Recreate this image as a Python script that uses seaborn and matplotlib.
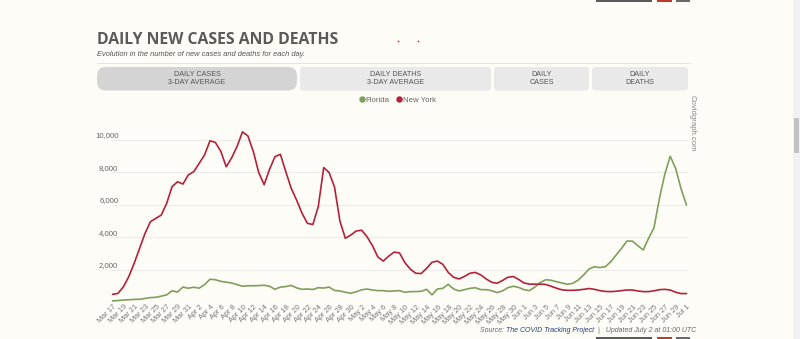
import numpy as np
import pandas as pd
import seaborn as sns
import matplotlib.pyplot as plt
import matplotlib.transforms as mtransforms
from matplotlib.patches import FancyBboxPatch
from matplotlib.lines import Line2D

# ---------------- data ----------------
dates = pd.date_range("2020-03-17", "2020-07-01", freq="D")
states = ["Florida", "New York"]
florida = [100, 120, 150, 170, 190, 200, 250, 300, 320, 390,
           470, 720, 640, 950, 880, 940, 880, 1100, 1430, 1400,
           1300, 1250, 1200, 1100, 1000, 1030, 1030, 1040, 1060, 1000,
           810, 950, 980, 1050, 900, 810, 830, 800, 910, 890,
           950, 740, 710, 630, 570, 660, 780, 830, 770, 730,
           730, 690, 710, 730, 630, 670, 670, 690, 810, 470,
           830, 870, 1120, 830, 710, 790, 870, 910, 790, 790,
           730, 610, 710, 910, 1000, 930, 790, 730, 950, 1230,
           1400, 1370, 1280, 1200, 1120, 1180, 1380, 1690, 2060, 2200,
           2150, 2200, 2500, 2920, 3330, 3780, 3780, 3500, 3230, 3950,
           4600, 6400, 7900, 9000, 8250, 7000, 6000]
new_york = [500, 560, 960, 1590, 2410, 3330, 4250, 4970, 5180, 5380,
            6100, 7130, 7430, 7290, 7850, 8050, 8560, 9080, 9950, 9850,
            9300, 8350, 8900, 9600, 10500, 10250, 9300, 8000, 7250, 8200,
            8970, 9120, 8050, 7030, 6300, 5490, 4870, 4800, 5900, 8300,
            8000, 7100, 5000, 3950, 4150, 4400, 4450, 4050, 3500, 2800,
            2550, 2850, 3100, 3050, 2450, 2050, 1800, 1780, 2100, 2480,
            2550, 2350, 1850, 1550, 1450, 1600, 1800, 1850, 1700, 1450,
            1250, 1180, 1350, 1550, 1600, 1420, 1200, 1130, 1130, 1130,
            1110, 1000, 880, 780, 750, 750, 770, 810, 860, 810,
            730, 680, 670, 690, 730, 770, 770, 710, 670, 670,
            720, 790, 810, 770, 630, 550, 550]
y_ticks = [2000, 4000, 6000, 8000, 10000]
y_labels = ["2,000", "4,000", "6,000", "8,000", "10,000"]
x_tick_pos = list(range(0, len(dates), 2))
x_tick_labels = [f"{d.strftime('%b')} {d.day}" for d in dates[::2]]
palette = {"Florida": "#7f9f5d", "New York": "#b2223a"}

# ---------------- style ----------------
sns.set_theme(style="white")
plt.rcParams["font.family"] = ["Liberation Sans", "DejaVu Sans"]

BG = "#fdfcf7"
W, H = 800, 339
fig = plt.figure(figsize=(W / 100, H / 100), dpi=100, facecolor=BG)
ident = mtransforms.IdentityTransform()


def fx(px):
    return px / W


def fy(py):
    return 1 - py / H


def rect(x0, y0, x1, y1, color, rounding=0.0, z=0):
    p = FancyBboxPatch((x0, H - y1), x1 - x0, y1 - y0,
                       boxstyle=f"round,pad=0,rounding_size={rounding}",
                       transform=ident, facecolor=color, edgecolor="none",
                       zorder=z)
    fig.add_artist(p)


# ---------------- header ----------------
fig.text(fx(97), fy(40), "DAILY NEW CASES AND DEATHS", fontsize=11.3,
         fontweight="bold", family=["Open Sans", "DejaVu Sans"],
         color="#5a5a5a", va="center", ha="left")
fig.text(fx(97), fy(54.5), "Evolution in the number of new cases and deaths for each day.",
         fontsize=5.4, style="italic", color="#555555", va="center", ha="left")
for px in (398, 418):
    fig.add_artist(Line2D([fx(px)], [fy(41)], marker="o", ms=1.3, color="#d43a3a",
                          mec="none", transform=fig.transFigure))
fig.add_artist(Line2D([fx(97), fx(690)], [fy(62.5), fy(62.5)], color="#e4e4e4",
                      lw=0.7, transform=fig.transFigure))

# tabs
tabs = [(97, 297, "#d4d4d4", 9, "DAILY CASES", "3-DAY AVERAGE"),
        (300, 491, "#e9e9e9", 3, "DAILY DEATHS", "3-DAY AVERAGE"),
        (494, 589, "#e9e9e9", 3, "DAILY", "CASES"),
        (592, 688, "#e9e9e9", 3, "DAILY", "DEATHS")]
for x0, x1, col, rnd, l1, l2 in tabs:
    rect(x0, 67, x1, 90.5, col, rnd)
    cx = (x0 + x1) / 2
    fig.text(fx(cx), fy(74.5), l1, fontsize=5.2, color="#555555", ha="center", va="center")
    fig.text(fx(cx), fy(82.5), l2, fontsize=5.2, color="#555555", ha="center", va="center")

# ---------------- chart ----------------
ax = fig.add_axes([fx(111), fy(302.5), fx(688) - fx(111), (302.5 - 125) / H])
ax.set_facecolor(BG)
df = pd.DataFrame({
    "day": np.tile(np.arange(len(dates)), 2),
    "state": np.repeat(states, len(dates)),
    "cases": florida + new_york,
})
sns.lineplot(data=df, x="day", y="cases", hue="state", palette=palette,
             linewidth=1.2, legend=False, ax=ax)
ax.set_xlim(-0.28, len(dates) - 1 + 0.28)
ax.set_ylim(0, 10923)
ax.set_xlabel("")
ax.set_ylabel("")
for s in ax.spines.values():
    s.set_visible(False)
ax.set_yticks(y_ticks)
ax.set_yticklabels(y_labels)
ax.yaxis.grid(True, color="#ebebea", lw=0.8)
ax.xaxis.grid(False)
ax.tick_params(axis="y", length=0, pad=-5.3, labelsize=5.6, labelcolor="#666666")
ax.set_xticks(x_tick_pos)
ax.set_xticklabels(x_tick_labels)
ax.tick_params(axis="x", length=0, pad=2.5, labelsize=5.3, labelcolor="#777777")
up = mtransforms.ScaledTranslation(0, 4 / 100, fig.dpi_scale_trans)
for lbl in ax.get_yticklabels():
    lbl.set_verticalalignment("center")
    lbl.set_transform(lbl.get_transform() + up)
right = mtransforms.ScaledTranslation(3 / 100, 0, fig.dpi_scale_trans)
for lbl in ax.get_xticklabels():
    lbl.set_rotation(45)
    lbl.set_ha("right")
    lbl.set_va("center")
    lbl.set_rotation_mode("anchor")
    lbl.set_transform(lbl.get_transform() + right)

# legend
handles = [Line2D([], [], marker="o", ls="none", ms=3.6, color=palette[s]) for s in states]
fig.legend(handles, states, loc="center", bbox_to_anchor=(fx(397), fy(100)), ncol=2,
           frameon=False, fontsize=5.6, labelcolor="#666666", handletextpad=0.05,
           columnspacing=0.8, handlelength=0.9, borderpad=0)

# watermark
fig.text(fx(692), fy(95), "Covidgraph.com", rotation=270, fontsize=5.6,
         color="#888888", ha="center", va="top")

# source line
t1 = fig.text(fx(480), fy(331), "Source: ", fontsize=5.0, style="italic",
              color="#666666", ha="left", va="center")
t2 = fig.text(0, 0, "The COVID Tracking Project", fontsize=5.0, style="italic",
              color="#223f74", ha="left", va="center")
t3 = fig.text(0, 0, "  |   Updated July 2 at 01:00 UTC", fontsize=5.0, style="italic",
              color="#666666", ha="left", va="center")
fig.canvas.draw()
r = fig.canvas.get_renderer()
bb1 = t1.get_window_extent(r)
t2.set_position((bb1.x1 / W, fy(331)))
bb2 = t2.get_window_extent(r)
t3.set_position((bb2.x1 / W, fy(331)))

# scrollbar and page fragments
rect(793, 0, 800, 339, "#f1f1f1")
rect(794, 118, 799, 153, "#c1c1c1", 1)
for x0, x1, col in [(596, 652, "#5a5a5a"), (657, 672, "#c0392b"), (676, 690, "#6a6a6a")]:
    rect(x0, 0, x1, 2, col)
    rect(x0, 337, x1, 339, col)

fig.savefig("out.png", dpi=100, facecolor=BG)
